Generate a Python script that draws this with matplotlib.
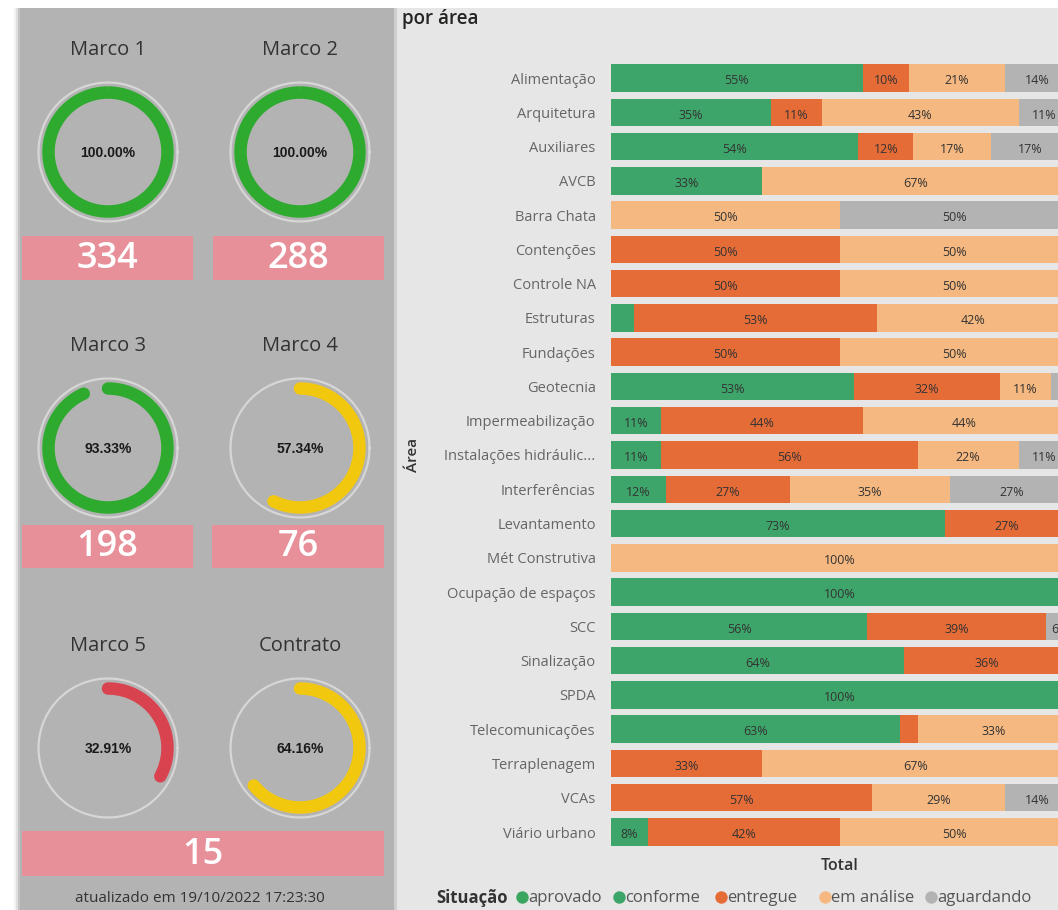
import numpy as np
import matplotlib.pyplot as plt
from matplotlib.patches import Rectangle

# gauge data
gauge_names = ["Marco 1", "Marco 2", "Marco 3", "Marco 4", "Marco 5", "Contrato"]
gauge_values = [100.00, 100.00, 93.33, 57.34, 32.91, 64.16]
gauge_colors = ["#2eab2e", "#2eab2e", "#2eab2e", "#f2c80f", "#d9434f", "#f2c80f"]
card_values = ["334", "288", "198", "76", "15"]
updated_text = "atualizado em 19/10/2022 17:23:30"

# bar chart data
areas = ["Alimentação", "Arquitetura", "Auxiliares", "AVCB", "Barra Chata",
         "Contenções", "Controle NA", "Estruturas", "Fundações", "Geotecnia",
         "Impermeabilização", "Instalações hidráulic...", "Interferências",
         "Levantamento", "Mét Construtiva", "Ocupação de espaços", "SCC",
         "Sinalização", "SPDA", "Telecomunicações", "Terraplenagem", "VCAs",
         "Viário urbano"]
aprovado = [0] * 23
conforme = [55, 35, 54, 33, 0, 0, 0, 5, 0, 53, 11, 11, 12, 73, 0, 100, 56, 64, 100, 63, 0, 0, 8]
entregue = [10, 11, 12, 0, 0, 50, 50, 53, 50, 32, 44, 56, 27, 27, 0, 0, 39, 36, 0, 4, 33, 57, 42]
em_analise = [21, 43, 17, 67, 50, 50, 50, 42, 50, 11, 44, 22, 35, 0, 100, 0, 0, 0, 0, 33, 67, 29, 50]
aguardando = [14, 11, 17, 0, 50, 0, 0, 0, 0, 4, 0, 11, 27, 0, 0, 0, 6, 0, 0, 0, 0, 14, 0]

series_names = ["aprovado", "conforme", "entregue", "em análise", "aguardando"]
series_colors = ["#3aa660", "#3ea56a", "#e66c37", "#f5b880", "#b3b3b3"]

W, H = 1058, 910
fig = plt.figure(figsize=(W / 100, H / 100), dpi=100)
fig.patch.set_facecolor("white")
plt.rcParams['font.family'] = ['Open Sans', 'DejaVu Sans']

# background canvas in pixel coordinates
bg = fig.add_axes([0, 0, 1, 1])
bg.set_xlim(0, W)
bg.set_ylim(H, 0)
bg.axis("off")

# left panel shadow + gray panel
for i, a in enumerate([0.05, 0.08, 0.12]):
    bg.add_patch(Rectangle((14 + i * 2, 8), 10, H, color="black", alpha=a, lw=0))
bg.add_patch(Rectangle((20, 8), 374, H, color="#b3b3b3", lw=0))
# right panel
bg.add_patch(Rectangle((394, 8), W - 394, H, color="#e6e6e6", lw=0))
bg.add_patch(Rectangle((394, 8), 3, H, color="#cfcfcf", lw=0))

centers = [(108, 152), (300, 152), (108, 448), (300, 448), (108, 748), (300, 748)]
title_y = [50, 50, 346, 346, 646, 646]
for name, val, col, (cx, cy), ty in zip(gauge_names, gauge_values, gauge_colors, centers, title_y):
    t = np.linspace(0, 2 * np.pi, 300)
    bg.plot(cx + 69.5 * np.cos(t), cy + 69.5 * np.sin(t), color="#d6d6d6", lw=1.6)
    ang = np.linspace(0, 2 * np.pi * val / 100, 300)
    r = 59.5
    cap = "butt" if val >= 100 else "round"
    bg.plot(cx + r * np.sin(ang), cy - r * np.cos(ang), color=col, lw=9,
            solid_capstyle=cap)
    bg.text(cx, cy + 1, f"{val:.2f}%", ha="center", va="center", fontsize=10,
            fontweight="bold", color="#1a1a1a", family=["Liberation Sans", "DejaVu Sans"])
    bg.text(cx, ty, name, ha="center", va="center", fontsize=14.5, color="#333333")

# pink cards
cards = [(22, 236, 171, 44), (213, 236, 171, 44), (22, 525, 171, 43),
         (212, 525, 172, 43), (22, 831, 362, 45)]
for (x, y, w, h), v in zip(cards, card_values):
    bg.add_patch(Rectangle((x, y), w, h, color="#e8909a", lw=0))
    bg.text(x + w / 2, y + h / 2 + 1, v, ha="center", va="center", fontsize=26,
            color="white", fontweight="semibold")

bg.text(200, 898, updated_text, ha="center", va="center", fontsize=11, color="#333333")

# titles of the bar chart
bg.text(402, 19, "por área", ha="left", va="center", fontsize=13.5, color="#252423",
        fontweight="semibold")
bg.text(413, 455, "Área", ha="center", va="center", rotation=90, fontsize=11,
        color="#333333", fontweight="semibold")
bg.text(840, 866, "Total", ha="center", va="center", fontsize=11.5,
        color="#333333", fontweight="semibold")

# legend
bg.text(436, 898, "Situação", ha="left", va="center", fontsize=12,
        color="#333333", fontweight="bold")
leg_x = [522, 619, 721, 825, 931]
for lx, nm, c in zip(leg_x, series_names, series_colors):
    bg.scatter([lx], [897], s=80, color=c, lw=0)
    bg.text(lx + 6, 898, nm, ha="left", va="center", fontsize=12, color="#555555")

# stacked bar chart
row_h = (832 - 78) / 22
top = 78 - row_h / 2
bottom = 832 + row_h / 2
x0, x1 = 611, 1069
ax = fig.add_axes([x0 / W, 1 - bottom / H, (x1 - x0) / W, (bottom - top) / H])
ax.set_facecolor("none")
y = np.arange(len(areas))
left = np.zeros(len(areas))
all_series = [aprovado, conforme, entregue, em_analise, aguardando]
for vals, c in zip(all_series, series_colors):
    vals = np.array(vals, dtype=float)
    ax.barh(y, vals, left=left, height=0.8, color=c, lw=0)
    for yi, (l, v) in enumerate(zip(left, vals)):
        if v >= 6:
            ax.text(l + v / 2, yi + 0.08, f"{int(v)}%", ha="center", va="center",
                    fontsize=9, color="#333333")
    left += vals
ax.set_xlim(0, 100)
ax.set_ylim(len(areas) - 0.5, -0.5)
ax.set_yticks(y)
ax.set_yticklabels(areas, fontsize=10.5, color="#666666")
ax.tick_params(axis="y", length=0, pad=11)
ax.set_xticks([])
for s in ax.spines.values():
    s.set_visible(False)

fig.savefig("out.png", dpi=100, facecolor=fig.get_facecolor())
